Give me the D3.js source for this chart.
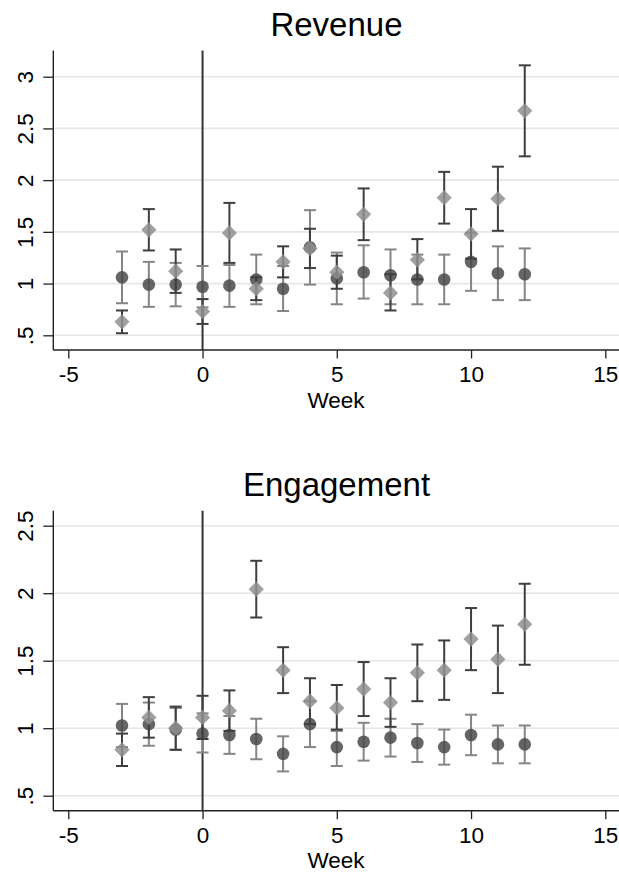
<!DOCTYPE html>
<html><head><meta charset="utf-8">
<script src="https://cdn.jsdelivr.net/npm/d3@7"></script>
<style>body{margin:0;background:#fff;} svg{display:block;}</style>
</head><body>
<script>
const weeks = [-3,-2,-1,0,1,2,3,4,5,6,7,8,9,10,11,12];
const xTicks = [-5,0,5,10,15];

const revCircleEst = [1.06,0.99,0.99,0.97,0.98,1.04,0.95,1.35,1.05,1.11,1.08,1.04,1.04,1.21,1.10,1.09];
const revCircleLo  = [0.81,0.775,0.78,0.77,0.775,0.80,0.735,0.99,0.80,0.855,0.80,0.80,0.80,0.93,0.84,0.84];
const revCircleHi  = [1.31,1.21,1.20,1.17,1.18,1.28,1.17,1.71,1.30,1.37,1.33,1.28,1.28,1.49,1.36,1.34];
const revDiamondEst = [0.63,1.52,1.12,0.73,1.49,0.95,1.21,1.34,1.11,1.67,0.91,1.23,1.83,1.48,1.82,2.67];
const revDiamondLo  = [0.52,1.32,0.91,0.61,1.20,0.84,1.06,1.15,0.95,1.42,0.74,1.04,1.58,1.24,1.51,2.23];
const revDiamondHi  = [0.74,1.72,1.33,0.85,1.78,1.06,1.36,1.53,1.27,1.92,1.09,1.43,2.08,1.72,2.13,3.11];
const revYTicks = [0.5,1,1.5,2,2.5,3];
const revYLabels = [".5","1","1.5","2","2.5","3"];

const engCircleEst = [1.02,1.03,0.99,0.96,0.95,0.92,0.81,1.03,0.86,0.90,0.93,0.89,0.86,0.95,0.88,0.88];
const engCircleLo  = [0.86,0.87,0.84,0.82,0.81,0.77,0.68,0.86,0.72,0.76,0.79,0.75,0.73,0.80,0.74,0.74];
const engCircleHi  = [1.18,1.19,1.15,1.11,1.09,1.07,0.94,1.20,0.98,1.04,1.07,1.03,0.99,1.10,1.02,1.02];
const engDiamondEst = [0.84,1.08,1.00,1.08,1.13,2.03,1.43,1.20,1.15,1.29,1.19,1.41,1.43,1.66,1.51,1.77];
const engDiamondLo  = [0.72,0.93,0.84,0.92,0.98,1.82,1.26,1.03,0.99,1.09,1.01,1.20,1.21,1.43,1.26,1.47];
const engDiamondHi  = [0.96,1.23,1.16,1.24,1.28,2.24,1.60,1.37,1.32,1.49,1.37,1.62,1.65,1.89,1.76,2.07];
const engYTicks = [0.5,1,1.5,2,2.5];
const engYLabels = [".5","1","1.5","2","2.5"];

const W = 619, H = 876;
const FONT = "'Liberation Sans', Arial, Helvetica, sans-serif";
const svg = d3.select("body").append("svg").attr("width", W).attr("height", H);

const x = d3.scaleLinear().domain([-5, 15]).range([68.3, 605.3]);

function panel(opts) {
  const g = svg.append("g");
  const y = d3.scaleLinear().domain(opts.yDom).range(opts.yRange);
  const left = 53.3, right = 619, top = opts.top, bottom = opts.bottom;

  g.selectAll(".grid").data(opts.yTicks).enter().append("line")
    .attr("x1", left).attr("x2", right)
    .attr("y1", d => y(d)).attr("y2", d => y(d))
    .attr("stroke", "#e6e6e6").attr("stroke-width", 1.6);

  const xa = g.append("g").attr("transform", `translate(0,${bottom})`)
    .call(d3.axisBottom(x).tickValues(xTicks).tickSize(8.5).tickPadding(7).tickFormat(d3.format("d")));
  xa.select(".domain").remove();
  xa.selectAll("line").attr("stroke", "#222").attr("stroke-width", 1.3);
  xa.selectAll("text").attr("font-family", FONT).attr("font-size", 22.5).attr("fill", "#000")
    .attr("dy", null).attr("y", 32).text(d => d < 0 ? "-" + Math.abs(d) : d);

  const ya = g.append("g").attr("transform", `translate(${left},0)`)
    .call(d3.axisLeft(y).tickValues(opts.yTicks).tickSize(10).tickFormat((d, i) => opts.yLabels[i]));
  ya.select(".domain").remove();
  ya.selectAll("line").attr("stroke", "#222").attr("stroke-width", 1.3);
  ya.selectAll("text").attr("font-family", FONT).attr("font-size", 22.5).attr("fill", "#000")
    .attr("x", null).attr("dy", null).attr("text-anchor", "middle")
    .attr("transform", "translate(-20,0) rotate(-90)");

  g.append("line").attr("x1", left).attr("x2", right).attr("y1", bottom).attr("y2", bottom)
    .attr("stroke", "#222").attr("stroke-width", 1.4);
  g.append("line").attr("x1", left).attr("x2", left).attr("y1", top).attr("y2", bottom)
    .attr("stroke", "#222").attr("stroke-width", 1.4);

  g.append("line").attr("x1", x(0)).attr("x2", x(0)).attr("y1", top).attr("y2", bottom)
    .attr("stroke", "#333").attr("stroke-width", 2);

  g.append("text").attr("x", 336.5).attr("y", opts.titleY).attr("text-anchor", "middle")
    .attr("font-family", FONT).attr("font-size", 33).attr("fill", "#000").text(opts.title);
  g.append("text").attr("x", 336).attr("y", bottom + 57.5).attr("text-anchor", "middle")
    .attr("font-family", FONT).attr("font-size", 22.5).attr("fill", "#000").text("Week");

  const cap = 6;
  function bars(lo, hi, color) {
    const bg = g.append("g").attr("stroke", color).attr("stroke-width", 2).attr("fill", "none");
    weeks.forEach((w, i) => {
      const cx = x(w);
      bg.append("line").attr("x1", cx).attr("x2", cx).attr("y1", y(lo[i])).attr("y2", y(hi[i]));
      bg.append("line").attr("x1", cx - cap).attr("x2", cx + cap).attr("y1", y(lo[i])).attr("y2", y(lo[i]));
      bg.append("line").attr("x1", cx - cap).attr("x2", cx + cap).attr("y1", y(hi[i])).attr("y2", y(hi[i]));
    });
  }
  bars(opts.cLo, opts.cHi, "#858585");
  g.append("g").selectAll("circle").data(weeks).enter().append("circle")
    .attr("cx", d => x(d)).attr("cy", (d, i) => y(opts.cEst[i])).attr("r", 6.3)
    .attr("fill", "#4a4a4a").attr("fill-opacity", 0.85);
  bars(opts.dLo, opts.dHi, "#3e3e3e");
  const s = 7.6;
  const dpath = `M0,${-s}L${s},0L0,${s}L${-s},0Z`;
  g.append("g").selectAll("path").data(weeks).enter().append("path")
    .attr("d", dpath)
    .attr("transform", (d, i) => `translate(${x(d)},${y(opts.dEst[i])})`)
    .attr("fill", "#8f8f8f").attr("fill-opacity", 0.85);
}

panel({
  title: "Revenue", titleY: 36,
  yDom: [0.5, 3], yRange: [335.3, 76.7], top: 50.5, bottom: 350,
  yTicks: revYTicks, yLabels: revYLabels,
  cEst: revCircleEst, cLo: revCircleLo, cHi: revCircleHi,
  dEst: revDiamondEst, dLo: revDiamondLo, dHi: revDiamondHi
});
panel({
  title: "Engagement", titleY: 496,
  yDom: [0.5, 2.5], yRange: [795.7, 525.7], top: 510.7, bottom: 810.7,
  yTicks: engYTicks, yLabels: engYLabels,
  cEst: engCircleEst, cLo: engCircleLo, cHi: engCircleHi,
  dEst: engDiamondEst, dLo: engDiamondLo, dHi: engDiamondHi
});
</script>
</body></html>
